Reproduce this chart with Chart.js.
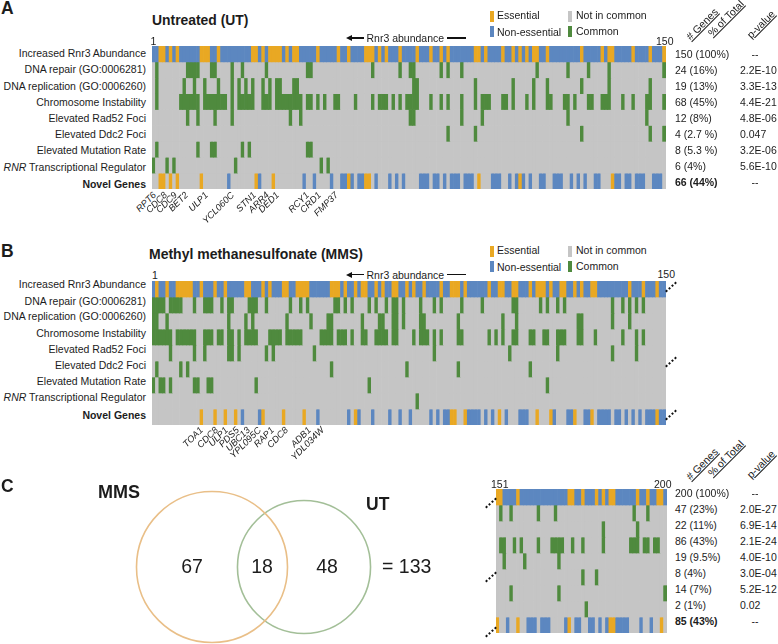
<!DOCTYPE html>
<html lang="en">
<head>
  <meta charset="UTF-8">
  <title>Rnr3 abundance screen</title>
  <script src="https://cdn.jsdelivr.net/npm/chart.js"></script>
  <style>
    html, body { margin: 0; padding: 0; background: #fff; }
    #page { position: relative; width: 778px; height: 644px; overflow: hidden; font-family: "Liberation Sans", Arial, sans-serif; color: #1c1c1c; }
    #page canvas { position: absolute; }
    .t { position: absolute; white-space: nowrap; font-size: 10.5px; line-height: 1; }
  </style>
</head>
<body>
  <div id="page"></div>
  <script>
    const rowLabels = ['Increased Rnr3 Abundance', 'DNA repair (GO:0006281)', 'DNA replication (GO:0006260)', 'Chromosome Instability', 'Elevated Rad52 Foci', 'Elevated Ddc2 Foci', 'Elevated Mutation Rate', '<i>RNR</i> Transcriptional Regulator', '<b>Novel Genes</b>']
    const legendLabels = ['Essential', 'Non-essential', 'Not in common', 'Common']

    // column numbers, panel A (UT), rank order 1-150
    const utEssential = [3,4,6,8,15,16,17,20,30,31,33,35,36,37,38,40,42,43,49,55,58,63,64,65,67,69,73,78,82,85,87,95,96,98,103,106,108,110,112,113,116,126,132,134,135,141,146,150]
    const utRepair = [2,11,12,13,14,18,19,24,27,34,46,47,65,73,76,77,85,87,91,113,122,128,134,150]
    const utReplication = [2,10,13,16,20,24,26,28,30,33,35,37,38,42,43,77,78,95,106,112,116,126,134,146]
    const utInstability = [2,9,10,11,12,13,14,16,17,18,19,20,21,22,24,26,27,28,29,30,33,34,35,37,38,39,40,41,42,43,44,46,47,49,51,54,55,60,65,67,68,69,71,73,75,76,77,78,82,85,87,91,95,97,98,99,103,104,106,110,112,116,117,121,122,124,128,129,132,133,134,138,141,145,146,150]
    const utRad52 = [11,14,19,24,41,44,76,77,91,97,122,145]
    const utDdc2 = [87,95,126,146,150]
    const utMutation = [2,14,18,19,27,29,46,47]
    const utRegulator = [1,5,7,25,50,52]
    const utNovelEssential = [3,4,6,8,15,31,36,58,63,64,96,108,135]
    const utNovelOther = [23,32,45,48,53,56,57,59,61,62,66,70,72,74,79,80,81,83,84,86,88,89,90,92,93,94,100,101,102,105,107,109,111,114,115,118,119,120,123,125,127,130,131,136,137,139,140,142,143,144,147,148,149]

    // panel B (MMS), rank order 1-150
    const mmsEssential = [2,5,8,9,10,11,12,15,19,22,28,29,33,35,39,40,43,44,45,46,53,54,55,57,60,62,63,66,68,71,72,75,77,80,85,88,89,90,92,99,102,103,106,107,111,113,114,115,117,120,121,124,126,129,130,140,144,148]
    const mmsRepair = [1,2,3,4,6,7,8,9,13,16,17,18,21,23,24,29,30,31,34,41,44,46,54,55,57,59,64,66,69,71,72,74,79,83,85,91,97,106,107,114,116,119,121,135,138,140,142,144]
    const mmsReplication = [1,2,5,23,28,30,40,47,52,53,62,67,68,71,72,74,79,80,90,103,107,125,126,135,140]
    const mmsInstability = [1,2,3,4,5,6,8,9,10,11,12,13,16,17,18,20,21,23,24,26,28,29,30,31,35,36,37,38,40,41,42,43,44,50,51,52,53,55,56,57,59,62,63,66,67,68,69,71,72,77,79,80,81,83,85,90,91,99,101,103,106,107,111,112,115,116,119,120,121,125,126,130,138,142,144]
    const mmsRad52 = [6,13,16,23,24,26,34,36,48,83,105,119,135,142]
    const mmsDdc2 = [2,9,11,53,75,90,111]
    const mmsMutation = [1,3,4,6,13,14,17,18,31,64,116]
    const mmsRegulator = [78]
    const mmsNovelEssential = [15,19,22,25,33,39,45,60,88,89,92,102,113,117,124,129,148]
    const mmsNovelOther = [27,32,49,58,61,65,70,73,76,82,84,86,87,93,94,95,96,98,100,104,108,109,110,118,122,123,127,128,131,132,133,134,136,137,139,141,143,145,146,147,149,150]

    // panel C heat map, ranks 151-200
    const restEssential = [151,152,157,172,173,176,180,182,184,185,192,195,198,199]
    const restRepair = [152,155,163,168,191,195]
    const restReplication = [182,192]
    const restInstability = [152,153,156,158,163,167,168,169,170,173,176,182,190,191,192,194,195,197,198]
    const restRad52 = [153,159,169]
    const restDdc2 = [176,180]
    const restMutation = [155,169,200]
    const restRegulator = [177]
    const restNovelEssential = [151,157,172,184,185,199]
    const restNovelOther = [154,160,161,162,164,165,166,171,174,175,178,179,181,183,186,187,188,189,193,196]

    const utGenes = ['RPT6','CDC8','CDC9','BET2','ULP1','YCL060C','STN1','ARR4','DED1','RCY1','CRD1','FMP37']
    const mmsGenes = ['TOA1','CDC8','ULP1','PDS5','UBC13','YPL095C','RAP1','CDC8','ADB1','YDL034W']

    const utCounts = ['150 (100%)','24 (16%)','19 (13%)','68 (45%)','12 (8%)','4 (2.7 %)','8 (5.3 %)','6 (4%)','<b>66 (44%)</b>']
    const utPvalues = ['--','2.2E-10','3.3E-13','4.4E-21','4.8E-06','0.047','3.2E-06','5.6E-10','--']
    const restCounts = ['200 (100%)','47 (23%)','22 (11%)','86 (43%)','19 (9.5%)','8 (4%)','14 (7%)','2 (1%)','<b>85 (43%)</b>']
    const restPvalues = ['--','2.0E-27','6.9E-14','2.1E-24','4.0E-10','3.0E-04','5.2E-12','0.02','--']

    const vennMms = 67
    const vennBoth = 18
    const vennUt = 48
    const vennTotal = 133

    const BLUE = '#5c87c0', ORANGE = '#e9a823', GREEN = '#4f8a3e', GRAY = '#c5c5c5'
    const page = document.getElementById('page')

    function text(html, x, y, opts = {}) {
      const d = document.createElement('div')
      d.className = 't'
      d.innerHTML = html
      d.style.left = x + 'px'
      d.style.top = y + 'px'
      d.style.transform = `translate(${opts.right ? '-100%' : opts.center ? '-50%' : '0'},-50%)`
      if (opts.size) d.style.fontSize = opts.size + 'px'
      if (opts.bold) d.style.fontWeight = 'bold'
      page.appendChild(d)
      return d
    }

    // slanted text, anchored at its upper right end
    function slanted(label, x, y, size, italic) {
      const d = text(label, x, y, {size})
      d.style.transform = 'translate(-100%,-50%) rotate(-45deg)'
      d.style.transformOrigin = 'right center'
      if (italic) d.style.fontStyle = 'italic'
      return d
    }

    function box(x, y, w, h, color) {
      const d = document.createElement('div')
      d.style.cssText = `position:absolute;left:${x}px;top:${y}px;width:${w}px;height:${h}px;background:${color}`
      page.appendChild(d)
    }

    function dotted(x, y) {
      const d = document.createElement('div')
      d.style.cssText = `position:absolute;left:${x}px;top:${y}px;width:14px;border-top:2px dotted #111;transform:rotate(-42deg)`
      page.appendChild(d)
    }

    function heatmap(x, y, w, h, firstCol, nCols, panel) {
      const c = document.createElement('canvas')
      c.width = w
      c.height = h
      c.style.left = x + 'px'
      c.style.top = y + 'px'
      page.appendChild(c)

      const cols = []
      for (let i = 0; i < nCols; i++) cols.push(firstCol + i)

      const datasets = panel.map((row, r) => ({
        data: cols.map(() => [r, r + 1]),
        backgroundColor: cols.map(n => {
          if (r === 0) return row.essential.includes(n) ? ORANGE : BLUE
          if (r === 8) return row.essential.includes(n) ? ORANGE : row.other.includes(n) ? BLUE : GRAY
          return row.includes(n) ? GREEN : GRAY
        }),
        grouped: false,
        categoryPercentage: 1,
        barPercentage: 1
      }))

      new Chart(c, {
        type: 'bar',
        data: { labels: cols, datasets },
        options: {
          responsive: false,
          animation: false,
          layout: { padding: 0 },
          plugins: { legend: { display: false }, tooltip: { enabled: false } },
          scales: {
            x: { display: false },
            y: { display: false, min: 0, max: 9, reverse: true }
          }
        }
      })
    }

    function venn() {
      const c = document.createElement('canvas')
      c.width = 470
      c.height = 204
      c.style.left = '0px'
      c.style.top = '440px'
      page.appendChild(c)
      // radius follows the square root of each set's size
      const k = 8.19
      new Chart(c, {
        type: 'bubble',
        data: {
          datasets: [
            { data: [{ x: 212, y: 127, r: k * Math.sqrt(vennMms + vennBoth) }], borderColor: '#e9bf88', backgroundColor: 'transparent', borderWidth: 1.6, clip: false },
            { data: [{ x: 304, y: 127, r: k * Math.sqrt(vennUt + vennBoth) }], borderColor: '#a3bf98', backgroundColor: 'transparent', borderWidth: 1.6, clip: false }
          ]
        },
        options: {
          responsive: false,
          animation: false,
          layout: { padding: 0, autoPadding: false },
          plugins: { legend: { display: false }, tooltip: { enabled: false } },
          scales: {
            x: { display: false, min: 0, max: 470 },
            y: { display: false, min: 0, max: 204, reverse: true }
          }
        }
      })
    }

    function rnrArrow(y) {
      box(351, y - 0.6, 13, 1.2, '#111')
      const a = document.createElement('div')
      a.style.cssText = `position:absolute;left:346px;top:${y - 3}px;border-style:solid;border-width:3px 6px 3px 0;border-color:transparent #111 transparent transparent`
      page.appendChild(a)
      text('Rnr3 abundance', 366.5, y)
      box(447, y - 0.6, 19, 1.2, '#111')
    }

    function legend(top) {
      box(490, top, 3.6, 11, ORANGE)
      box(490, top + 15, 3.6, 11, BLUE)
      box(568, top, 3.6, 11, GRAY)
      box(568, top + 15, 3.6, 11, GREEN)
      text(legendLabels[0], 497, top + 4)
      text(legendLabels[1], 497, top + 20.5)
      text(legendLabels[2], 576, top + 4)
      text(legendLabels[3], 576, top + 20)
    }

    function tableHeader(bottom) {
      slanted('<u># Genes</u>', 716, bottom - 29, 10.5)
      slanted('<u>% of Total</u>', 742, bottom - 37, 10.5)
      slanted('<u>p-value</u>', 773, bottom - 27, 10.5)
    }

    function table(top, counts, pvalues) {
      counts.forEach((s, i) => text(s, 675, top + i * 16.05))
      pvalues.forEach((s, i) => s === '--' ? text(s, 755, top + i * 16.05, {center: true}) : text(s, 740, top + i * 16.05))
    }

    heatmap(152, 46, 514, 143, 1, 150, [
      { essential: utEssential }, utRepair, utReplication, utInstability, utRad52, utDdc2, utMutation, utRegulator,
      { essential: utNovelEssential, other: utNovelOther }
    ])
    heatmap(152, 281, 514, 144, 1, 150, [
      { essential: mmsEssential }, mmsRepair, mmsReplication, mmsInstability, mmsRad52, mmsDdc2, mmsMutation, mmsRegulator,
      { essential: mmsNovelEssential, other: mmsNovelOther }
    ])
    heatmap(496, 489, 171, 144, 151, 50, [
      { essential: restEssential }, restRepair, restReplication, restInstability, restRad52, restDdc2, restMutation, restRegulator,
      { essential: restNovelEssential, other: restNovelOther }
    ])
    venn()

    // panel letters and titles
    text('A', 1, 9, {size: 17.5, bold: true})
    text('B', 1, 252, {size: 17.5, bold: true})
    text('C', 1, 487, {size: 17.5, bold: true})
    text('Untreated (UT)', 152, 21, {size: 13.9, bold: true})
    text('Methyl methanesulfonate (MMS)', 149, 254, {size: 14, bold: true})

    const aRowY = [52.5, 69, 86, 102, 118, 134, 150, 167, 184]
    const bRowY = [283.5, 300.5, 316, 333, 349, 365, 381, 397, 415]
    rowLabels.forEach((s, i) => {
      text(s, 146, aRowY[i], {right: true})
      text(s, 146, bRowY[i], {right: true})
    })

    text('1', 150.5, 40.5)
    text('150', 656, 40.5)
    text('1', 152, 274.5)
    text('150', 657.5, 273.5)
    text('151', 491, 484)
    text('200', 654, 484)

    rnrArrow(38)
    rnrArrow(274.5)
    legend(11)
    legend(246)

    tableHeader(39)
    tableHeader(479)
    table(54, utCounts, utPvalues)
    table(493, restCounts, restPvalues)

    const utGeneX = [155, 165.7, 176, 187, 207, 233, 255, 268, 278, 308, 320, 337]
    utGenes.forEach((g, i) => slanted(g, utGeneX[i], 194, 9.3, true))
    const mmsGeneX = [202, 217, 227, 238, 249, 260, 273, 287, 310, 323]
    mmsGenes.forEach((g, i) => slanted(g, mmsGeneX[i], 429, 9.3, true))

    dotted(664, 286); dotted(664, 361); dotted(664, 414)
    dotted(484, 502); dotted(484, 576); dotted(484, 631)

    // venn labels
    text('MMS', 98, 492, {size: 18, bold: true})
    text('UT', 366, 505, {size: 17.5, bold: true})
    text(vennMms, 192, 567, {size: 19.5, center: true})
    text(vennBoth, 262, 567, {size: 19.5, center: true})
    text(vennUt, 327, 567, {size: 19.5, center: true})
    text('= ' + vennTotal, 382, 567, {size: 19.5})
  </script>
</body>
</html>
